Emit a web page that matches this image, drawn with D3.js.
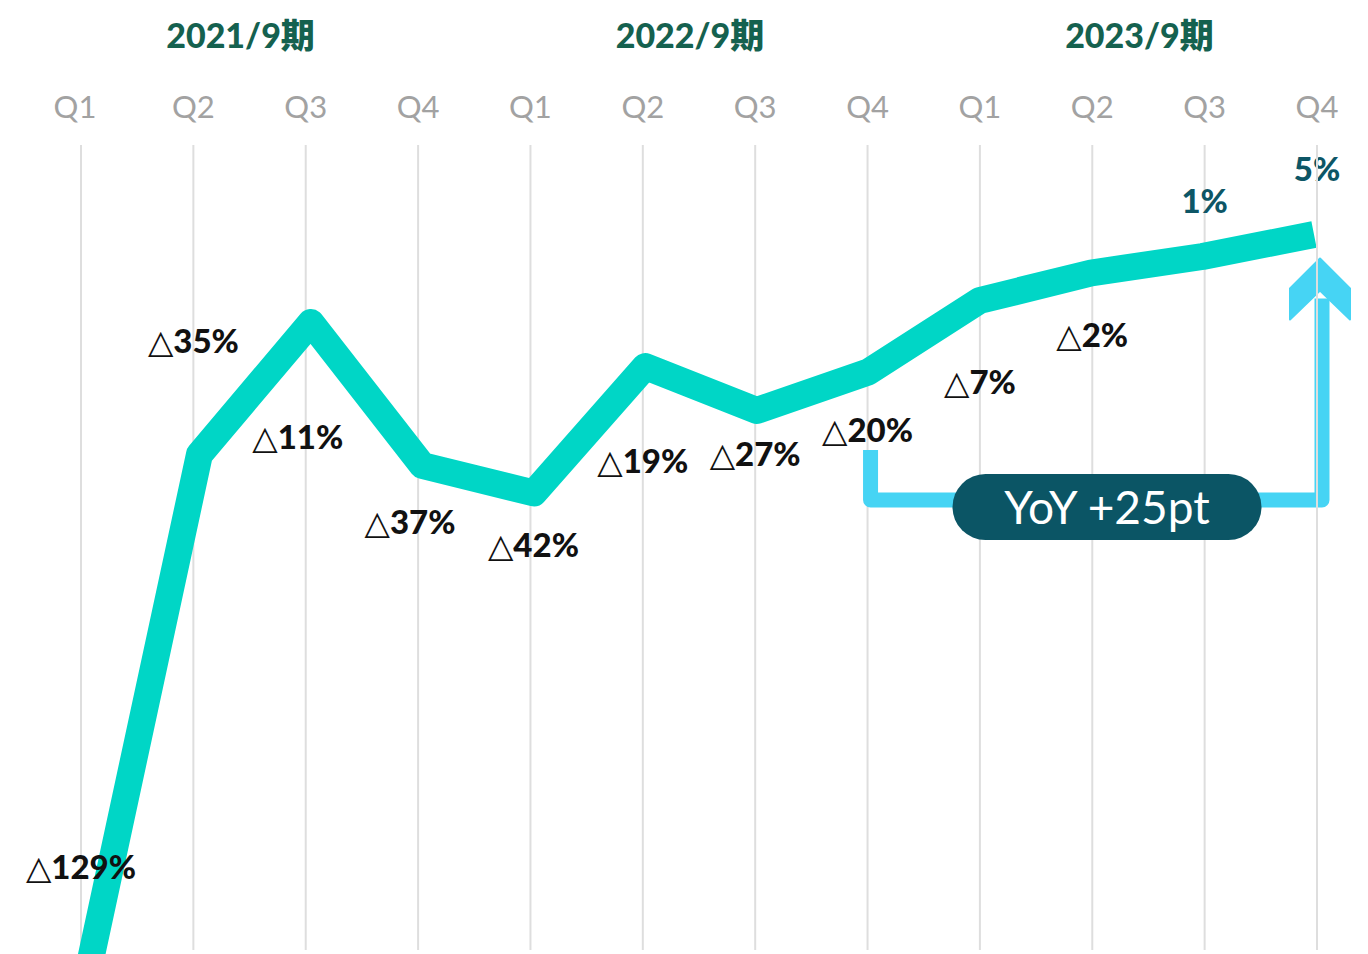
<!DOCTYPE html>
<html>
<head>
<meta charset="utf-8">
<script src="https://cdn.jsdelivr.net/npm/d3@7"></script>
<style>
  html, body { margin: 0; padding: 0; background: #fff; }
  svg { display: block; font-family: Lato, "Noto Sans", "Noto Sans CJK JP", sans-serif; }
</style>
</head>
<body>
<svg id="chart"></svg>
<script>
// fiscal years (September year-end) and quarters
var years = ["2021/9期", "2022/9期", "2023/9期"];
var quarters = ["Q1", "Q2", "Q3", "Q4"];
// YoY growth per quarter, % (negative shown with △)
var values = [-129, -35, -11, -37, -42, -19, -27, -20, -7, -2, 1, 5];

var WIDTH = 1368;
var HEIGHT = 954;
var GRID_TOP = 145;
var GRID_BOTTOM = 950;

var periods = [];
years.forEach(function (y) {
    quarters.forEach(function (q) {
        periods.push({ year: y, q: q, id: y + "-" + q });
    });
});
var data = periods.map(function (p, i) {
    return { id: p.id, year: p.year, q: p.q, v: values[i] };
});

var svg = d3.select("#chart")
    .attr("width", WIDTH)
    .attr("height", HEIGHT);

var ids = periods.map(function (p) { return p.id; });

// gridline / label positions and the (slightly shifted) line positions
var xGrid = d3.scalePoint().domain(ids).range([81, 1317]);
var xLine = d3.scalePoint().domain(ids).range([88, 1314]);
var y = d3.scaleLinear().domain([-140, 10]).range([1032, 207]);

// vertical gridlines
function drawGrid(sel, list) {
    sel.selectAll("line.grid")
        .data(list)
        .enter().append("line")
        .attr("class", "grid")
        .attr("x1", function (d) { return xGrid(d); })
        .attr("x2", function (d) { return xGrid(d); })
        .attr("y1", GRID_TOP)
        .attr("y2", GRID_BOTTOM)
        .attr("stroke", "#dedede")
        .attr("stroke-width", 2);
}
drawGrid(svg.append("g"), ids);

// quarter labels
svg.append("g").selectAll("text")
    .data(periods)
    .enter().append("text")
    .attr("x", function (d, i) { return xGrid(d.id) - (i === 0 ? 6 : 0); })
    .attr("y", 118)
    .attr("text-anchor", "middle")
    .attr("font-size", 31)
    .attr("fill", "#a2a2a2")
    .text(function (d) { return d.q; });

// fiscal year headers, centred between Q2 and Q3
svg.append("g").selectAll("text")
    .data(years)
    .enter().append("text")
    .attr("x", function (d) {
        return (xGrid(d + "-Q2") + xGrid(d + "-Q3")) / 2 - 9;
    })
    .attr("y", 48)
    .attr("text-anchor", "middle")
    .attr("font-size", 34)
    .attr("font-weight", 900)
    .attr("fill", "#15614f")
    .text(function (d) { return d; });

// the growth line
var line = d3.line()
    .x(function (d) { return xLine(d.id); })
    .y(function (d) { return y(d.v); });

svg.append("path")
    .datum(data)
    .attr("d", line)
    .attr("fill", "none")
    .attr("stroke", "#00d6c6")
    .attr("stroke-width", 27)
    .attr("stroke-linejoin", "round")
    .attr("stroke-linecap", "butt");

// value labels, nudged off the line
var nudge = [[0, -104], [0, -113], [-8, 115], [-8, 57], [3, 52], [0, 95],
             [0, 44], [0, 58], [0, 82], [0, 62], [0, -55], [0, -65]];

var labels = svg.append("g").selectAll("text")
    .data(data)
    .enter().append("text")
    .attr("x", function (d, i) { return xGrid(d.id) + nudge[i][0]; })
    .attr("y", function (d, i) { return y(d.v) + nudge[i][1]; })
    .attr("dy", "0.36em")
    .attr("text-anchor", "middle")
    .attr("font-size", 33)
    .attr("font-weight", 900)
    .attr("fill", function (d) { return d.v < 0 ? "#111" : "#0d5666"; });

labels.filter(function (d) { return d.v < 0; })
    .append("tspan")
    .attr("font-family", "DejaVu Sans")
    .attr("font-weight", 400)
    .attr("font-size", 33)
    .text("△");
labels.append("tspan")
    .text(function (d) { return Math.abs(d.v) + "%"; });

// YoY bracket: Q4 of 2022/9期 vs Q4 of 2023/9期
var from = data[7];
var to = data[11];
var leftX = xGrid(from.id) + 3;
var rightX = xGrid(to.id) + 5;
var baseY = 500;
var arrowTop = y(to.v) + 24;

var note = svg.append("g");
note.append("path")
    .attr("d", "M" + leftX + "," + 450 + "V" + baseY + "H" + rightX + "V" + (arrowTop + 40))
    .attr("fill", "none")
    .attr("stroke", "#46d4f4")
    .attr("stroke-width", 15)
    .attr("stroke-linejoin", "round");

note.append("polygon")
    .attr("points", [
        [rightX - 2, arrowTop],
        [rightX + 28, arrowTop + 30],
        [rightX + 28, arrowTop + 61],
        [rightX - 2, arrowTop + 32],
        [rightX - 32, arrowTop + 61],
        [rightX - 32, arrowTop + 30]
    ].map(function (p) { return p.join(","); }).join(" "))
    .attr("fill", "#46d4f4")
    .attr("stroke", "#46d4f4")
    .attr("stroke-width", 2)
    .attr("stroke-linejoin", "round");

var pillW = 309, pillH = 66, pillCx = 1107;
note.append("rect")
    .attr("x", pillCx - pillW / 2)
    .attr("y", baseY + 7 - pillH / 2)
    .attr("width", pillW)
    .attr("height", pillH)
    .attr("rx", pillH / 2)
    .attr("fill", "#0b5565");

note.append("text")
    .attr("x", pillCx)
    .attr("y", baseY + 7)
    .attr("dy", "0.36em")
    .attr("text-anchor", "middle")
    .attr("font-size", 46)
    .attr("fill", "#fff")
    .text("YoY +" + (to.v - from.v) + "pt");

// the last gridline sits above the arrow
drawGrid(svg.append("g"), [to.id]);
</script>
</body>
</html>
